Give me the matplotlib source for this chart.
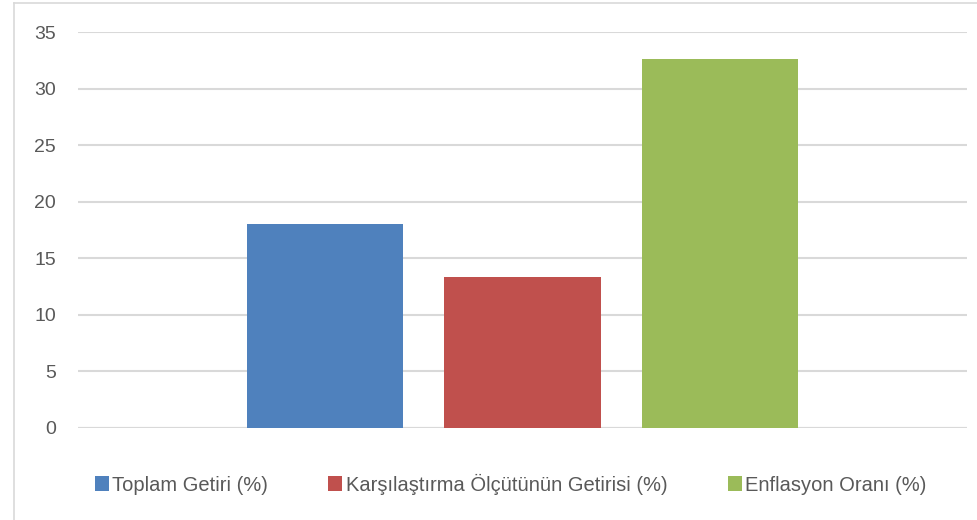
import matplotlib
matplotlib.use('Agg')
import matplotlib.pyplot as plt
from matplotlib.lines import Line2D
import numpy as np

plt.rcParams['font.family'] = ['Liberation Sans', 'DejaVu Sans']

series = ['Toplam Getiri (%)', 'Karşılaştırma Ölçütünün Getirisi (%)', 'Enflasyon Oranı (%)']
values = [18.05, 13.35, 32.6]
colors = ['#4f81bd', '#c0504d', '#9bbb59']
yticks = [0, 5, 10, 15, 20, 25, 30, 35]

fig = plt.figure(figsize=(9.78, 5.2), dpi=100)
ax = fig.add_axes([78 / 978, 1 - 428 / 520, 889 / 978, 396 / 520])

width = 0.1755
offsets = [-0.222, 0.0, 0.222]
for name, v, c, off in zip(series, values, colors, offsets):
    ax.bar(off, v, width=width, color=c, label=name, zorder=3)

ax.set_xlim(-0.5, 0.5)
ax.set_ylim(0, 35)
ax.set_yticks(yticks)
ax.set_xticks([])
ax.grid(axis='y', color='#d9d9d9', linewidth=1.5, zorder=0)
for s in ax.spines.values():
    s.set_visible(False)
ax.tick_params(axis='y', length=0, pad=16, labelsize=14, labelcolor='#595959')
ax.axhline(0, color='#d9d9d9', linewidth=1.5, zorder=1)

# chart border (left and top visible)
fig.add_artist(Line2D([14 / 978, 14 / 978], [0, 1 - 3 / 520], transform=fig.transFigure,
                      color='#d9d9d9', linewidth=1.2))
fig.add_artist(Line2D([14 / 978, 1], [1 - 3 / 520, 1 - 3 / 520], transform=fig.transFigure,
                      color='#d9d9d9', linewidth=1.2))

leg = fig.legend(loc='center', bbox_to_anchor=(0.522, 1 - 484 / 520), ncol=3, frameon=False,
                 fontsize=14.5, handlelength=0.7, handleheight=0.7, handletextpad=0.15,
                 columnspacing=3.0, labelcolor='#595959')

fig.savefig('out.png', dpi=100)
